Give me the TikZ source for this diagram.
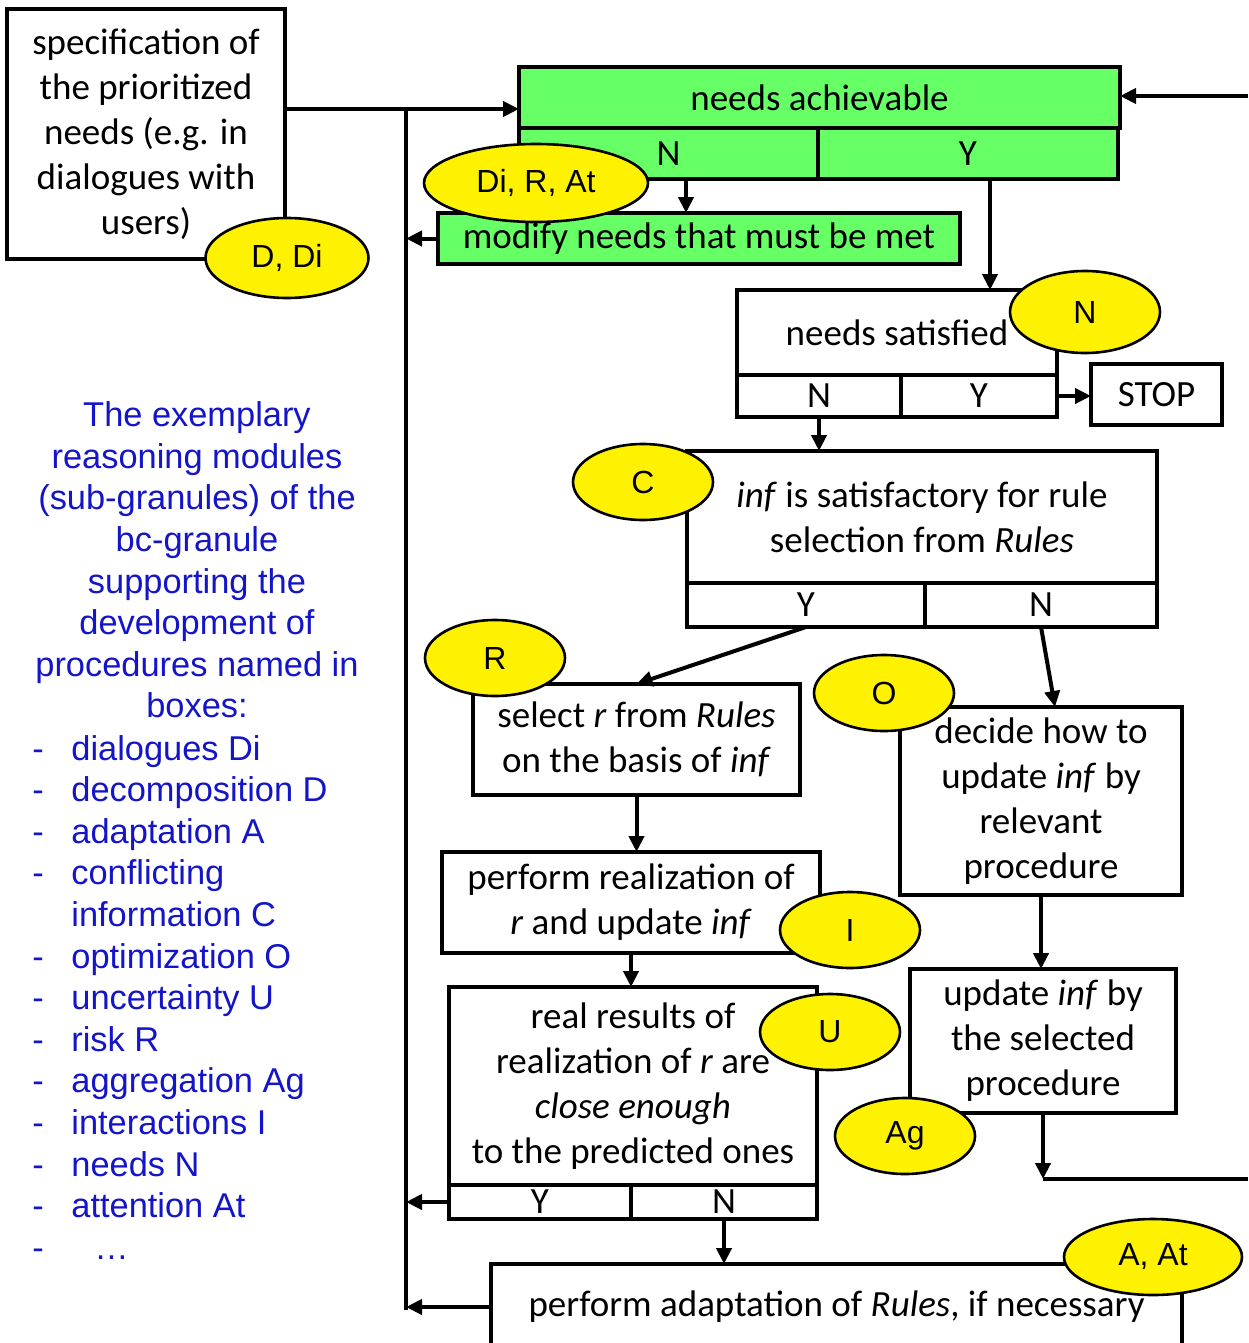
\documentclass[tikz,border=0pt]{standalone}
\usepackage{fontspec}
\setmainfont{Liberation Sans}
\newfontfamily\calibri{Carlito}
\usetikzlibrary{arrows.meta,shapes.geometric,positioning}
\definecolor{needgreen}{RGB}{102,255,102}
\definecolor{noteblue}{RGB}{20,20,200}
\tikzset{
  box/.style={draw, line width=2.4pt, align=center, inner sep=0pt, outer sep=0pt,
    font=\calibri\fontsize{18.5}{22.5}\selectfont},
  cell/.style={box, anchor=north west},
  tag/.style={ellipse, draw, line width=1.3pt, fill=yellow, inner sep=0pt,
    minimum width=70pt, minimum height=38pt, font=\fontsize{16}{19}\selectfont},
  arr/.style={-{Triangle[length=8pt,width=7.5pt]}, line width=2pt},
  note/.style={text=noteblue, inner sep=0pt, font=\fontsize{17.2}{20.8}\selectfont},
}
\begin{document}
\begin{tikzpicture}[x=0.5pt,y=-0.5pt]
  \useasboundingbox (0,0) rectangle (1248,1343);

  % legend on the left
  \node[note, align=center] (intro) at (197,560) {The exemplary\\reasoning modules\\(sub-granules) of the\\bc-granule\\supporting the\\development of\\procedures named in\\boxes:};
  \foreach \txt [count=\i from 0] in {dialogues Di, decomposition D, adaptation A,
      conflicting, information C, optimization O, uncertainty U, risk R,
      aggregation Ag, interactions I, needs N, attention At} {
      \node[note, anchor=base west] (item\i) at (71,760+41.6*\i) {\txt};
    }
  \node[note, anchor=base west] (item12) at (94,760+41.6*12) {…};
  \foreach \i in {0,1,2,3,5,6,7,8,9,10,11,12} {
      \node[note, anchor=base] (dash\i) at (38,760+41.6*\i) {-};
    }

  % boxes
  \node[box, minimum width=139pt, minimum height=125pt] (spec) at (146,134) {specification of\\the prioritized\\needs (e.g. in\\dialogues with\\users)};

  \node[box, fill=needgreen, minimum width=300.5pt, minimum height=30.5pt] (achv) at (819.5,97.5) {needs achievable};
  \node[cell, fill=needgreen, minimum width=149.5pt, minimum height=25.5pt] (achvN) at (achv.south west) {N};
  \node[cell, fill=needgreen, minimum width=150pt, minimum height=25.5pt] (achvY) at (achvN.north east) {Y};

  \node[box, fill=needgreen, minimum width=261pt, minimum height=25.5pt] (modify) at (699,238.5) {modify needs that must be met};

  \node[box, minimum width=160pt, minimum height=42.5pt] (sat) at (897,332.5) {needs satisfied};
  \node[cell, minimum width=82pt, minimum height=21pt] (satN) at (sat.south west) {N};
  \node[cell, minimum width=78pt, minimum height=21pt] (satY) at (satN.north east) {Y};
  \node[box, minimum width=65.5pt, minimum height=30.5pt] (stop) at (1156.5,394.5) {STOP};

  \node[box, minimum width=235pt, minimum height=66pt] (infq) at (922,517) {\textit{inf} is satisfactory for rule\\selection from \textit{Rules}};
  \node[cell, minimum width=119pt, minimum height=22pt] (infY) at (infq.south west) {Y};
  \node[cell, minimum width=116pt, minimum height=22pt] (infN) at (infY.north east) {N};

  \node[box, minimum width=163.5pt, minimum height=55.5pt] (select) at (636.5,739.5) {select \textit{r} from \textit{Rules}\\on the basis of \textit{inf}};
  \node[box, minimum width=141pt, minimum height=94pt] (decide) at (1041,801) {decide how to\\update \textit{inf} by\\relevant\\procedure};
  \node[box, minimum width=189pt, minimum height=50.5pt] (perform) at (631,902.5) {perform realization of\\\textit{r} and update \textit{inf}};
  \node[box, minimum width=133pt, minimum height=72pt] (update) at (1043,1041) {update \textit{inf} by\\the selected\\procedure};
  \node[box, minimum width=184pt, minimum height=99pt] (real) at (633,1086) {real results of\\realization of \textit{r} are\\\textit{close enough}\\to the predicted ones};
  \node[cell, minimum width=91pt, minimum height=17pt] (realY) at (real.south west) {Y};
  \node[cell, minimum width=93pt, minimum height=17pt] (realN) at (realY.north east) {N};

  \node[box, minimum width=345.5pt, minimum height=43pt] (adapt) at (836.5,1307) {perform adaptation of \textit{Rules}, if necessary};

  % feedback bus and loop ends
  \coordinate (busTop) at (406,109);
  \coordinate (busEnd) at (406,1310);
  \coordinate (loopIn) at (1248,96);
  \coordinate (loopOut) at (1248,1179);
  \coordinate (yDrop) at (990,0);
  \coordinate (mTop) at ([xshift=-6.5pt]modify.north);

  \begin{scope}[arr]
      \draw (spec.east |- busTop) -- (achv.west |- busTop);
      \draw (loopIn) -- (achv.east |- loopIn);
      \draw (mTop |- achvN.south) -- (mTop);
      \draw (modify.west) -- (modify.west -| busTop);
      \draw (yDrop |- achvY.south) -- (yDrop |- sat.north);
      \draw (satY.east) -- (stop.west |- satY.east);
      \draw (satN.south) -- (satN.south |- infq.north);
      \draw (infY.south) -- (select.north);
      \draw (infN.south) -- ([xshift=7pt]decide.north);
      \draw (select.south) -- (select.south |- perform.north);
      \draw (decide.south) -- (decide.south |- update.north);
      \draw (perform.south) -- (perform.south |- real.north);
      \draw (update.south) -- (update.south |- loopOut);
      \draw (realY.west) -- (realY.west -| busTop);
      \draw (realN.south) -- (realN.south |- adapt.north);
      \draw (adapt.west) -- (adapt.west -| busTop);
  \end{scope}
  \draw[line width=2pt] (busTop) -- (busEnd);
  \draw[line width=2pt] (update.south |- loopOut) -- (loopOut);

  % module tags
  \node[tag, minimum width=81.5pt, minimum height=40pt] (tagDDi) at (287,258) {D, Di};
  \node[tag, minimum width=112pt, minimum height=39pt] (tagDiRAt) at (536,183) {Di, R, At};
  \node[tag, minimum width=75pt, minimum height=41pt] (tagN) at (1085,312) {N};
  \node[tag] (tagC) at (643,482) {C};
  \node[tag] (tagR) at (495,658) {R};
  \node[tag] (tagO) at (884,693) {O};
  \node[tag] (tagI) at (850,930) {I};
  \node[tag] (tagU) at (830,1032) {U};
  \node[tag] (tagAg) at (905,1136) {Ag};
  \node[tag, minimum width=89pt] (tagAAt) at (1153,1257) {A, At};
\end{tikzpicture}
\end{document}
